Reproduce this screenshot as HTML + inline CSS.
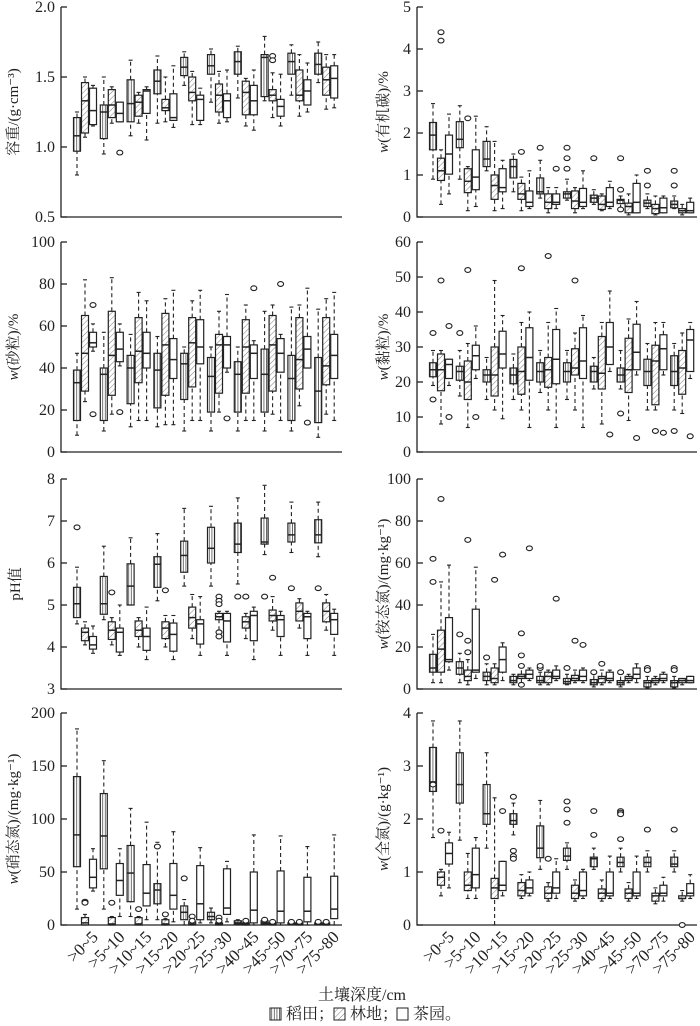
<!DOCTYPE html>
<html><head><meta charset="utf-8">
<style>
html,body{margin:0;padding:0;background:#fff;}
svg{display:block;font-family:"Liberation Serif","Noto Serif CJK SC","Noto Sans CJK SC",serif;}
</style></head>
<body>
<svg id="chart" width="700" height="1026" viewBox="0 0 700 1026" xmlns="http://www.w3.org/2000/svg">
<defs>
<pattern id="pv" patternUnits="userSpaceOnUse" width="2.6" height="4"><line x1="1.3" y1="0" x2="1.3" y2="4" stroke="#333" stroke-width="0.7"/></pattern>
<pattern id="pd" patternUnits="userSpaceOnUse" width="4" height="4" patternTransform="rotate(45)"><line x1="0" y1="0" x2="0" y2="4" stroke="#444" stroke-width="0.7"/></pattern>
</defs>
<text x="362" y="1000" font-size="16" text-anchor="middle" fill="#222">土壤深度/cm</text>
<g font-size="16" fill="#222">
<rect x="270" y="1008" width="11" height="12" fill="url(#pv)" stroke="#222"/>
<text x="286" y="1019">稻田；</text>
<rect x="334" y="1008" width="11" height="12" fill="url(#pd)" stroke="#222"/>
<text x="350" y="1019">林地；</text>
<rect x="397" y="1008" width="11" height="12" fill="#fff" stroke="#222"/>
<text x="413" y="1019">茶园。</text>
</g>
</svg>
<script>
const groups=[">0~5",">5~10",">10~15",">15~20",">20~25",">25~30",">40~45",">45~50",">70~75",">75~80"];
const seriesNames=["paddy","forest","tea"];
// Bulk density
const bdPaddy=[[0.80,0.97,1.08,1.21,1.25],[0.95,1.06,1.25,1.30,1.50],[1.08,1.18,1.31,1.48,1.62],[1.17,1.38,1.47,1.55,1.65],[1.44,1.51,1.57,1.64,1.68],[1.32,1.52,1.58,1.66,1.70],[1.35,1.52,1.61,1.68,1.72],[1.33,1.36,1.64,1.66,1.79],[1.37,1.52,1.61,1.67,1.73],[1.46,1.52,1.59,1.67,1.75]];
const bdForest=[[1.07,1.10,1.33,1.46,1.50],[1.17,1.21,1.30,1.41,1.43],[1.17,1.22,1.32,1.37,1.39],[1.18,1.26,1.28,1.34,1.50],[1.16,1.33,1.39,1.50,1.54],[1.17,1.25,1.37,1.45,1.54],[1.15,1.23,1.39,1.47,1.49],[1.21,1.33,1.37,1.41,1.53],[1.22,1.33,1.37,1.55,1.66],[1.27,1.37,1.48,1.57,1.66]];
const bdTea=[[1.15,1.16,1.26,1.42,1.44],[1.18,1.18,1.24,1.32,1.32],[1.05,1.24,1.40,1.41,1.43],[1.14,1.19,1.21,1.38,1.58],[1.16,1.19,1.34,1.37,1.42],[1.18,1.21,1.33,1.38,1.55],[1.12,1.23,1.33,1.44,1.55],[1.15,1.22,1.29,1.34,1.52],[1.25,1.30,1.40,1.48,1.60],[1.28,1.35,1.49,1.58,1.66]];
const bdOut=[[2,1,0.96],[1,7,1.65],[1,7,1.62]];
// Sand
const sandPaddy=[[8,15,33,39,47],[10,15,37,40,57],[12,23,40,46,56],[12,21,39,47,55],[10,25,42,47,50],[10,19,36,45,50],[10,19,37,43,50],[10,19,37,49,67],[10,15,35,46,69],[7,14,29,45,68]];
const sandForest=[[24,29,47,65,82],[18,27,46,67,83],[15,33,48,64,76],[13,27,51,66,73],[15,31,52,64,72],[19,28,51,56,67],[15,28,50,63,70],[18,29,51,65,70],[22,30,44,64,70],[18,32,41,64,73]];
const sandTea=[[48,50,52,57,61],[41,43,49,57,61],[15,40,47,57,72],[13,35,44,54,77],[15,42,50,63,77],[38,40,51,55,75],[15,35,47,51,53],[15,38,47,54,56],[40,40,49,55,78],[15,35,46,56,76]];
const sandOut=[[2,0,70],[2,0,18],[2,1,19],[2,5,16],[2,6,78],[2,7,80],[2,8,14]];
// pH
const phPaddy=[[4.55,4.7,5.03,5.42,5.9],[4.65,4.78,5.03,5.68,6.4],[5.0,5.0,5.45,5.98,6.6],[5.1,5.42,5.97,6.15,6.7],[5.45,5.78,6.18,6.52,7.3],[5.45,6.0,6.35,6.85,7.35],[5.5,6.25,6.45,6.95,7.55],[6.2,6.45,6.5,7.07,7.85],[6.25,6.5,6.67,6.95,7.45],[6.15,6.48,6.67,7.03,7.45]];
const phForest=[[4.05,4.15,4.35,4.45,4.6],[4.05,4.18,4.4,4.6,4.7],[4.0,4.25,4.4,4.62,4.7],[4.0,4.2,4.45,4.6,4.75],[4.2,4.45,4.7,4.95,5.25],[4.4,4.65,4.72,4.8,4.85],[4.2,4.45,4.6,4.72,4.8],[4.4,4.62,4.75,4.88,5.2],[4.45,4.62,4.85,5.05,5.15],[4.4,4.6,4.85,5.05,5.25]];
const phTea=[[3.85,3.95,4.05,4.25,4.5],[3.8,3.88,4.35,4.45,5.0],[3.7,3.92,4.25,4.45,4.95],[3.7,3.9,4.3,4.57,4.75],[3.8,4.07,4.55,4.65,5.2],[3.8,4.12,4.62,4.8,4.85],[3.7,4.15,4.75,4.85,4.95],[3.8,4.25,4.65,4.75,4.85],[3.8,4.2,4.72,4.8,4.85],[3.8,4.3,4.65,4.8,4.9]];
const phOut=[[0,0,6.85],[1,1,5.3],[1,3,5.35],[1,5,5.2],[1,5,5.1],[1,5,5.02],[1,5,4.35],[1,5,4.25],[0,6,5.2],[1,6,5.2],[0,7,5.2],[1,7,5.65],[0,8,5.4],[0,9,5.4]];
// Nitrate
const no3Paddy=[[15,55,85,140,185],[15,53,84,124,155],[8,22,49,75,110],[5,20,33,39,78],[0,5,12,18,24],[2,5,8,12,16],[0,1,2,4,5],[0,1,2,4,5],[0,1,1.5,2,3],[0,1,1.5,2,3]];
const no3Forest=[[0,0,2,7,10],[0,0,1,7,8],[0,0,1,7,8],[0,0,1,5,6],[0,0,1,3,4],[0,0,1,2,3],[0,0,1,2,3],[0,0,1,2,3],[0,0,1,2,3],[0,0,1,2,3]];
const no3Tea=[[32,35,45,62,72],[8,28,42,58,72],[5,18,30,57,97],[3,15,28,58,88],[2,5,20,56,73],[3,10,16,53,60],[0,2,14,50,85],[0,2,13,51,84],[0,3,13,45,74],[0,6,15,46,85]];
const no3Out=[[1,0,22],[1,0,21],[1,1,21],[1,2,15],[0,3,74],[1,3,10],[0,4,44],[1,4,8],[1,4,4],[1,5,7],[1,5,4],[1,6,4],[0,7,5],[1,7,3],[0,8,3],[1,8,3],[0,9,3],[1,9,3]];
// Organic C
const ocPaddy=[[0.9,1.6,1.95,2.25,2.7],[0.9,1.65,1.85,2.27,2.65],[1.1,1.2,1.38,1.8,2.15],[0.6,0.93,1.2,1.37,1.5],[0.45,0.55,0.6,0.93,1.35],[0.4,0.45,0.55,0.6,0.9],[0.3,0.35,0.45,0.52,0.65],[0.2,0.32,0.4,0.42,0.5],[0.2,0.25,0.33,0.4,0.55],[0.2,0.22,0.3,0.38,0.5]];
const ocForest=[[0.3,0.87,1.1,1.4,1.6],[0.15,0.58,0.85,1.15,1.2],[0.15,0.42,0.75,1.0,1.8],[0.15,0.42,0.55,0.8,0.95],[0.1,0.2,0.35,0.55,0.7],[0.1,0.2,0.38,0.62,0.7],[0.15,0.18,0.3,0.5,0.55],[0.05,0.1,0.25,0.33,0.55],[0.05,0.08,0.2,0.3,0.5],[0.05,0.1,0.15,0.2,0.3]];
const ocTea=[[0.55,1.02,1.5,1.95,2.45],[0.25,0.65,0.95,1.6,2.4],[0.2,0.6,0.7,1.15,1.35],[0.2,0.25,0.35,0.62,1.1],[0.2,0.3,0.35,0.55,0.7],[0.2,0.25,0.35,0.68,1.1],[0.2,0.25,0.35,0.7,0.85],[0.1,0.1,0.35,0.8,1.0],[0.1,0.1,0.22,0.45,0.5],[0.1,0.1,0.15,0.35,0.45]];
const ocOut=[[1,0,4.4],[1,0,4.2],[1,1,2.35],[1,3,1.55],[0,4,1.65],[2,4,1.15],[0,5,1.65],[0,5,1.4],[0,5,1.15],[0,6,1.4],[0,7,1.4],[0,7,0.65],[0,7,0.18],[0,8,1.1],[0,8,0.75],[0,9,1.1],[0,9,0.75]];
// Clay
const clayPaddy=[[19,21.5,23.5,25.5,29],[16,20.5,23,24.5,29],[15,20,22,23.5,27],[15,19.5,22,24,28],[17,20,23,25.5,29],[15,20,23,25.5,29],[18,20,23,24.5,27],[18,20,22,24,29],[12,19,23,26.5,31],[12,19,23,27.5,31]];
const clayForest=[[8,17.5,23.5,28,29],[7,15,20,26,31],[12,16,22,30,49],[12,16.5,23,30,37],[12,18.5,23.5,27,37],[12,22,24,29.5,34],[8,18,22.5,33,37],[9,17,23.5,32.5,38],[12,13.5,26,30.5,37],[11,16.5,24,29,34]];
const clayTea=[[19,21,25,26.5,26.5],[21,23.5,27.5,30.5,36],[9.5,24,28,34.5,39],[7,20.5,27,35.5,40],[7,19.5,26.5,35,41],[7,21,26,35.5,39],[23,25,30,37,46],[22,23.5,28.5,36.5,43],[22,23.5,29.5,33.5,37],[21,23,32,35,37]];
const clayOut=[[0,0,34],[0,0,15],[1,0,49],[2,0,36],[2,0,10],[0,1,34],[1,1,52],[2,1,10],[1,3,52.5],[1,4,56],[1,5,49],[2,6,5],[0,7,11],[2,7,4],[1,8,6],[2,8,5.5],[0,9,6],[2,9,4.5]];
// Ammonium
const nh4Paddy=[[3,8,10,16.5,26],[3,7,10,13,17],[2,4,6,8,12],[2,3,4,6,7],[2,3,4,6,8],[2,2.5,3.5,5,7],[1,2,3,4.5,8],[1,2,3,4,7],[0.5,1,3,4,6],[0.5,1,3,4,6]];
const nh4Forest=[[3,8,19,28,51],[2,4,6,9,14],[2,3,5,10,12],[3,5,6,7,10],[2,3,6,8,9],[3,4,5,6.5,9],[2,3,5,6,9],[3,4,5,6,7],[2,3,4,5,6],[2,3,4,5,5]];
const nh4Tea=[[9,13,14,34,59],[5,8,9,38,58],[4,8,14,20,22],[4,5,7,9,10],[4,5,6,9,11],[3,4,6,9,10],[3,4,5,8,9],[3,5,7,10,12],[3,4,5,7,8],[3,3,4,6,6]];
const nh4Out=[[0,0,62],[0,0,51],[1,0,90.5],[0,1,26],[1,1,71],[1,1,23],[1,1,17.5],[0,2,15],[1,2,52],[2,2,64],[1,3,26.5],[1,3,16],[1,3,11],[1,3,2],[2,3,67],[0,4,10],[0,4,11],[2,4,43],[0,5,10],[1,5,23],[2,5,21],[0,6,8],[1,6,12],[0,7,8],[0,8,10],[0,8,9],[0,9,10],[0,9,9]];
// Total N
const tnPaddy=[[1.65,2.52,2.7,3.35,3.85],[1.6,2.3,2.65,3.25,3.85],[1.45,1.9,2.1,2.65,3.25],[1.7,1.9,1.97,2.1,2.3],[1.05,1.27,1.45,1.87,2.35],[1.05,1.22,1.3,1.45,1.55],[1.05,1.1,1.25,1.28,1.45],[1.0,1.1,1.18,1.28,1.45],[1.0,1.1,1.18,1.28,1.4],[1.0,1.1,1.15,1.28,1.4]];
const tnForest=[[0.55,0.75,0.9,1.0,1.05],[0.5,0.65,0.75,1.0,1.35],[0,0.5,0.7,0.88,2.4],[0.5,0.55,0.65,0.8,0.95],[0.45,0.5,0.6,0.72,0.8],[0.45,0.5,0.6,0.75,0.85],[0.45,0.5,0.6,0.68,0.85],[0.45,0.5,0.6,0.68,0.8],[0.4,0.45,0.55,0.6,0.7],[0.45,0.5,0.5,0.55,0.65]];
const tnTea=[[0.7,1.15,1.35,1.55,1.75],[0.5,0.7,0.95,1.45,1.65],[0.55,0.65,0.75,1.2,1.2],[0.55,0.6,0.7,0.85,1.0],[0.5,0.6,0.7,1.0,1.25],[0.5,0.55,0.65,1.0,1.05],[0.5,0.55,0.6,1.0,1.3],[0.5,0.55,0.6,1.0,1.3],[0.45,0.55,0.6,0.75,0.9],[0.5,0.55,0.6,0.78,0.95]];
const tnOut=[[0,0,2.65],[1,0,1.78],[2,2,2.15],[0,3,2.42],[0,3,1.4],[0,3,1.3],[0,3,1.25],[1,4,1.25],[0,5,2.33],[0,5,2.18],[0,5,1.93],[0,6,2.15],[0,6,1.7],[0,7,2.15],[0,7,2.12],[0,7,2.09],[0,7,1.62],[0,8,1.8],[0,9,1.8],[1,9,0]];
// Tick labels
const bdTicks=["0.5","1.0","1.5","2.0"];
const sandTicks=["0","20","40","60","80","100"];
const phTicks=["3","4","5","6","7","8"];
const no3Ticks=["0","50","100","150","200"];
const ocTicks=["0","1","2","3","4","5"];
const clayTicks=["0","10","20","30","40","50","60"];
const nh4Ticks=["0","20","40","60","80","100"];
const tnTicks=["0","1","2","3","4"];

const NS="http://www.w3.org/2000/svg";
const svg=document.getElementById("chart");
function mk(tag,attrs,parent){const e=document.createElementNS(NS,tag);for(const k in attrs)e.setAttribute(k,attrs[k]);parent.appendChild(e);return e;}
const fills=["url(#pv)","url(#pd)","#fff"];
const panels=[
 {id:"bulk-density",x0:61,x1:342,yT:7,yB:217,min:0.5,max:2.0,ticks:bdTicks,data:[bdPaddy,bdForest,bdTea],out:bdOut,label:"容重/(g·cm⁻³)",lx:13,pre:""},
 {id:"sand",x0:61,x1:342,yT:242,yB:452,min:0,max:100,ticks:sandTicks,data:[sandPaddy,sandForest,sandTea],out:sandOut,label:"(砂粒)/%",lx:13,pre:"w"},
 {id:"ph",x0:61,x1:342,yT:479,yB:689,min:3,max:8,ticks:phTicks,data:[phPaddy,phForest,phTea],out:phOut,label:"pH值",lx:15,pre:""},
 {id:"nitrate",x0:61,x1:342,yT:713,yB:925,min:0,max:200,ticks:no3Ticks,data:[no3Paddy,no3Forest,no3Tea],out:no3Out,label:"(硝态氮)/(mg·kg⁻¹)",lx:13,pre:"w",xl:true},
 {id:"organic-carbon",x0:417,x1:697,yT:7,yB:217,min:0,max:5,ticks:ocTicks,data:[ocPaddy,ocForest,ocTea],out:ocOut,label:"(有机碳)/%",lx:383,pre:"w"},
 {id:"clay",x0:417,x1:697,yT:242,yB:452,min:0,max:60,ticks:clayTicks,data:[clayPaddy,clayForest,clayTea],out:clayOut,label:"(黏粒)/%",lx:383,pre:"w"},
 {id:"ammonium",x0:417,x1:697,yT:479,yB:689,min:0,max:100,ticks:nh4Ticks,data:[nh4Paddy,nh4Forest,nh4Tea],out:nh4Out,label:"(铵态氮)/(mg·kg⁻¹)",lx:383,pre:"w"},
 {id:"total-nitrogen",x0:417,x1:697,yT:713,yB:925,min:0,max:4,ticks:tnTicks,data:[tnPaddy,tnForest,tnTea],out:tnOut,label:"(全氮)/(g·kg⁻¹)",lx:383,pre:"w",xl:true}
];
panels.forEach(p=>{
 const g=mk("g",{},svg);
 
 
 const ys=v=>p.yB-(v-p.min)/(p.max-p.min)*(p.yB-p.yT);
 const xs=(gi,si)=>p.x0+16+gi*26.8+si*8;
 const ax=mk("path",{d:`M${p.x0},${p.yT} L${p.x0},${p.yB} L${p.x1},${p.yB}`,fill:"none",stroke:"#222","stroke-width":1.3},g);
 
 
 const n=p.ticks.length;
 p.ticks.forEach((t,i)=>{
  const v=p.min+i*(p.max-p.min)/(n-1), y=ys(v);
  const tl=mk("line",{x1:p.x0,y1:y,x2:p.x0+6,y2:y,stroke:"#222","stroke-width":1.3},g);
  
  
  const tx=mk("text",{x:p.x0-6,y:y+5,"font-size":16,"text-anchor":"end",fill:"#222"},g);
  
  
  tx.textContent=t;
 });
 const cy=(p.yT+p.yB)/2;
 const lab=mk("text",{x:p.lx,y:cy,"font-size":15,"text-anchor":"middle",fill:"#222",transform:`rotate(-90 ${p.lx} ${cy}) translate(0 5)`},g);
 
 
 if(p.pre){const ts=mk("tspan",{"font-style":"italic"},lab);ts.textContent=p.pre;const t2=mk("tspan",{},lab);t2.textContent=p.label;}else lab.textContent=p.label;
 p.data.forEach((ser,si)=>{
  ser.forEach((b,gi)=>{
   const x=xs(gi,si), w=7;
   const bg=mk("g",{},g);
   
   
   const st={stroke:"#222","stroke-width":1.1};
   mk("line",Object.assign({x1:x,y1:ys(b[3]),x2:x,y2:ys(b[4]),"stroke-dasharray":"4,3"},st),bg);
   mk("line",Object.assign({x1:x,y1:ys(b[0]),x2:x,y2:ys(b[1]),"stroke-dasharray":"4,3"},st),bg);
   mk("line",Object.assign({x1:x-2,y1:ys(b[4]),x2:x+2,y2:ys(b[4])},st),bg);
   mk("line",Object.assign({x1:x-2,y1:ys(b[0]),x2:x+2,y2:ys(b[0])},st),bg);
   mk("rect",{x:x-w/2,y:ys(b[3]),width:w,height:Math.max(0.5,ys(b[1])-ys(b[3])),fill:fills[si],stroke:"#222","stroke-width":1.2},bg);
   mk("line",{x1:x-w/2,y1:ys(b[2]),x2:x+w/2,y2:ys(b[2]),stroke:"#222","stroke-width":1.5},bg);
  });
 });
 p.out.forEach(o=>{
  const e=mk("ellipse",{cx:xs(o[1],o[0]),cy:ys(o[2]),rx:3,ry:2.4,fill:"#fff",stroke:"#222","stroke-width":1.1},g);
  
  
 });
 if(p.xl){
  groups.forEach((lb,gi)=>{
   const x=xs(gi,1)+14, y=938;
   const t=mk("text",{x:x,y:y,"font-size":17,"text-anchor":"end",fill:"#222",transform:`rotate(-45 ${x} ${y})`},g);
   
   
   t.textContent=lb;
  });
 }
});
</script>
</body></html>
